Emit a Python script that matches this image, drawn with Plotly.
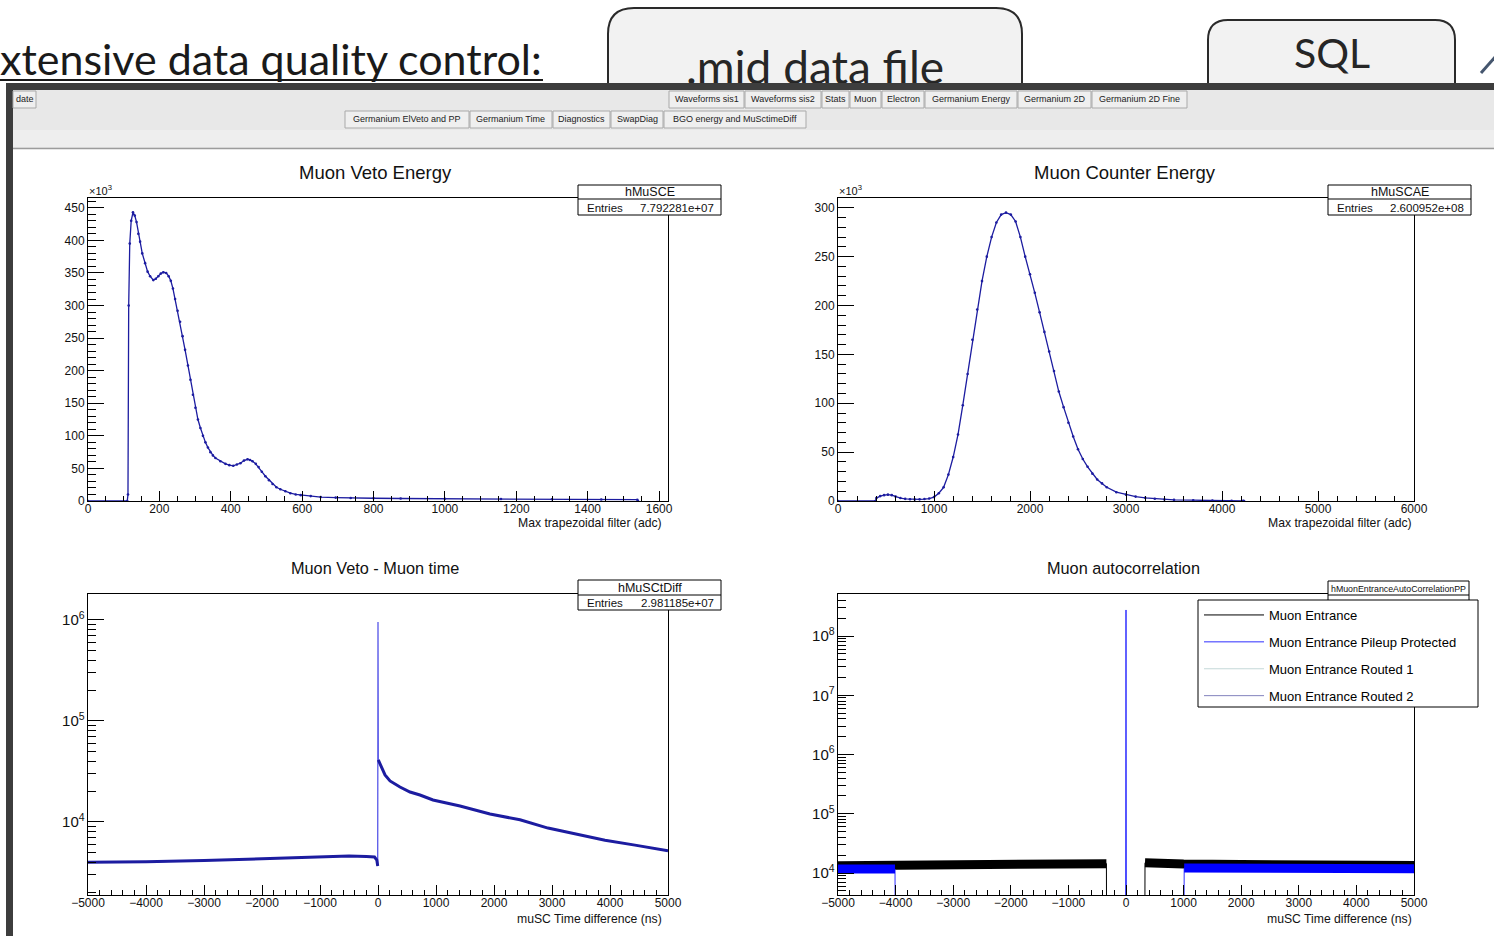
import plotly.graph_objects as go

W, H = 1494, 936
def fx(x): return x / W
def fy(y): return 1 - y / H

# ----------------------------- data -----------------------------
veto_energy_adc = [0, 110, 112, 114, 117, 121, 126, 131, 136, 141,
                   146, 152, 160, 167, 174, 183, 190, 197, 204, 211,
                   219, 226, 232, 238, 244, 251, 258, 265, 272, 280,
                   287, 294, 301, 308, 315, 322, 329, 336, 343, 350,
                   357, 371, 385, 396, 407, 417, 427, 437, 447, 454,
                   461, 470, 478, 487, 497, 507, 517, 528, 539, 553,
                   567, 582, 596, 624, 652, 694, 736, 800, 876, 1000,
                   1157, 1300, 1438, 1539, 1541]
veto_energy_k = [0, 0, 10, 300, 395, 430, 443, 438, 428, 410,
                 398, 380, 365, 352, 345, 339, 341, 345, 349, 351,
                 350, 345, 338, 326, 310, 292, 275, 253, 232, 208,
                 186, 163, 143, 125, 112, 100, 90, 82, 75, 70,
                 66, 61, 57, 55, 54, 56, 58, 62, 64, 63,
                 61, 57, 52, 45, 38, 32, 26, 21, 18, 15,
                 12, 10, 9, 7.5, 6, 5.2, 4.6, 4.2, 3.8, 3.4,
                 3.0, 2.6, 2.3, 2.0, 0]

counter_energy_adc = [0, 390, 400, 440, 480, 520, 560, 600, 650, 700,
                      750, 800, 850, 900, 950, 1000, 1050, 1100, 1150, 1200,
                      1250, 1300, 1350, 1400, 1450, 1500, 1550, 1600, 1650, 1700,
                      1750, 1800, 1850, 1900, 1950, 2000, 2050, 2100, 2150, 2200,
                      2250, 2300, 2350, 2400, 2450, 2500, 2550, 2600, 2650, 2700,
                      2750, 2800, 2900, 3000, 3100, 3200, 3300, 3400, 3500, 3700,
                      3900, 4100, 4220, 4230]
counter_energy_k = [0, 0, 3, 5, 6, 6.5, 6, 4.5, 3, 2.2,
                    1.8, 1.6, 1.7, 2, 2.5, 4, 8, 14, 27, 45,
                    68, 98, 130, 165, 196, 225, 250, 270, 285, 293,
                    295, 293, 286, 270, 250, 232, 213, 193, 173, 153,
                    133, 112, 96, 80, 66, 53, 43, 35, 28, 22,
                    18, 14, 9, 6.5, 4.5, 3.2, 2.3, 1.6, 1.2, 0.8,
                    0.5, 0.3, 0.2, 0]

veto_time_ns = [-5000, -4000, -3000, -2000, -1000, -500, -200, -60, -20, -5,
                0, 5, 34, 121, 207, 379, 552, 724, 948, 1414,
                1931, 2448, 2931, 3397, 3914, 4431, 5000]
veto_time_counts = [4000, 4030, 4150, 4300, 4450, 4600, 4550, 4500, 4200, 3660,
                    955000, 41100, 38000, 29200, 25500, 22200, 19800, 18500, 16500, 14400,
                    12000, 10500, 8700, 7600, 6600, 5900, 5200]

EMPTY_BIN = 1  # plotted level of empty bins (below the visible log range)
entrance_left_ns = [-5000, -4000, -3000, -2000, -1000, -340]
entrance_left_counts = [13300, 13500, 13700, 13900, 14200, 14400]
entrance_right_ns = [330, 500, 1000, 2000, 3000, 4000, 5000]
entrance_right_counts = [14900, 14600, 14200, 13900, 13700, 13600, 13400]
pileup_left_ns = [-5000, -4500, -4010]
pileup_left_counts = [11700, 11700, 11700]
pileup_right_ns = [1010, 2000, 3000, 4000, 5000]
pileup_right_counts = [12100, 12000, 11900, 11800, 11800]
pileup_spike_ns = [0]
pileup_spike_counts = [2.75e8]
routed1_ns = [-5000, 5000]
routed1_counts = [0, 0]
routed2_ns = [-5000, 5000]
routed2_counts = [0, 0]

legend_names = ["Muon Entrance", "Muon Entrance Pileup Protected",
                "Muon Entrance Routed 1", "Muon Entrance Routed 2"]

panel_titles = ["Muon Veto Energy", "Muon Counter Energy",
                "Muon Veto - Muon time", "Muon autocorrelation"]
axis_titles = ["Max trapezoidal filter (adc)", "Max trapezoidal filter (adc)",
               "muSC Time difference (ns)", "muSC Time difference (ns)"]
stats_names = ["hMuSCE", "hMuSCAE", "hMuSCtDiff", "hMuonEntranceAutoCorrelationPP"]
stats_entries = ["7.792281e+07", "2.600952e+08", "2.981185e+07", None]

tabs_row1 = ["date", "Waveforms sis1", "Waveforms sis2", "Stats", "Muon", "Electron",
             "Germanium Energy", "Germanium 2D", "Germanium 2D Fine"]
tabs_row2 = ["Germanium ElVeto and PP", "Germanium Time", "Diagnostics", "SwapDiag",
             "BGO energy and MuSctimeDiff"]

# ----------------------------- layout geometry -----------------------------
tabs_row1_edges = [(13, 36), (669, 744), (745, 821), (822, 849), (850, 881), (882, 924),
                   (925, 1017), (1018, 1091), (1092, 1187)]
tabs_row2_edges = [(345, 469), (470, 552), (553, 610), (611, 663), (664, 806)]

DARK = "#1c1ca0"
FONT = "Arial"

fig = go.Figure()

# top-left
fig.add_trace(go.Scatter(x=veto_energy_adc, y=veto_energy_k, xaxis="x", yaxis="y",
                         mode="lines+markers", line=dict(color=DARK, width=1.3),
                         marker=dict(size=2.6, color=DARK), showlegend=False))
# top-right
fig.add_trace(go.Scatter(x=counter_energy_adc, y=counter_energy_k, xaxis="x2", yaxis="y2",
                         mode="lines+markers", line=dict(color=DARK, width=1.3),
                         marker=dict(size=2.6, color=DARK), showlegend=False))
# bottom-left
fig.add_trace(go.Scatter(x=veto_time_ns, y=veto_time_counts, xaxis="x3", yaxis="y3",
                         mode="lines", line=dict(color="#4a4ae6", width=1.2), showlegend=False))
fig.add_trace(go.Scatter(x=veto_time_ns[:10], y=veto_time_counts[:10], xaxis="x3", yaxis="y3",
                         mode="lines", line=dict(color=DARK, width=3), showlegend=False))
fig.add_trace(go.Scatter(x=veto_time_ns[11:], y=veto_time_counts[11:], xaxis="x3", yaxis="y3",
                         mode="lines", line=dict(color=DARK, width=3), showlegend=False))

# bottom-right
ent_x = entrance_left_ns + [-330, 320] + entrance_right_ns
ent_y = entrance_left_counts + [EMPTY_BIN, EMPTY_BIN] + entrance_right_counts
fig.add_trace(go.Scatter(x=ent_x, y=ent_y, xaxis="x4", yaxis="y4", mode="lines",
                         line=dict(color="black", width=1), name=legend_names[0],
                         legendgroup="g1"))
fig.add_trace(go.Scatter(x=entrance_left_ns, y=entrance_left_counts, xaxis="x4", yaxis="y4",
                         mode="lines", line=dict(color="black", width=9), showlegend=False,
                         legendgroup="g1"))
fig.add_trace(go.Scatter(x=entrance_right_ns, y=entrance_right_counts, xaxis="x4", yaxis="y4",
                         mode="lines", line=dict(color="black", width=9), showlegend=False,
                         legendgroup="g1"))
pp_x = pileup_left_ns + [-4000, -10] + pileup_spike_ns + [10, 1000] + pileup_right_ns
pp_y = pileup_left_counts + [EMPTY_BIN, EMPTY_BIN] + pileup_spike_counts + [EMPTY_BIN, EMPTY_BIN] + pileup_right_counts
fig.add_trace(go.Scatter(x=pp_x, y=pp_y, xaxis="x4", yaxis="y4", mode="lines",
                         line=dict(color="#2f2fff", width=1), name=legend_names[1],
                         legendgroup="g2"))
fig.add_trace(go.Scatter(x=pileup_left_ns, y=pileup_left_counts, xaxis="x4", yaxis="y4",
                         mode="lines", line=dict(color="#0000ff", width=9), showlegend=False,
                         legendgroup="g2"))
fig.add_trace(go.Scatter(x=pileup_right_ns, y=pileup_right_counts, xaxis="x4", yaxis="y4",
                         mode="lines", line=dict(color="#0000ff", width=9), showlegend=False,
                         legendgroup="g2"))
fig.add_trace(go.Scatter(x=routed1_ns, y=routed1_counts, xaxis="x4", yaxis="y4", mode="lines",
                         line=dict(color="#c4d8d8", width=1), name=legend_names[2],
                         legendgroup="g3"))
fig.add_trace(go.Scatter(x=routed2_ns, y=routed2_counts, xaxis="x4", yaxis="y4", mode="lines",
                         line=dict(color="#8383bd", width=1), name=legend_names[3],
                         legendgroup="g4"))

# slide texts (as text traces on a full-page overlay axis so the window frame can cover them)
fig.add_trace(go.Scatter(x=[0], y=[64], xaxis="x5", yaxis="y5", mode="text",
                         text=["xtensive data quality control:"], textposition="middle right",
                         textfont=dict(family="Lato", size=43, color="#1a1a1a"),
                         showlegend=False, hoverinfo="skip", cliponaxis=False))
fig.add_trace(go.Scatter(x=[815, 1332], y=[72, 58], xaxis="x5", yaxis="y5", mode="text",
                         text=[".mid data file", "SQL"], textposition="middle center",
                         textfont=dict(family="Lato", size=[46, 41], color="#262626"),
                         showlegend=False, hoverinfo="skip", cliponaxis=False))

# ----------------------------- axes -----------------------------
def xax(domain, rng, dtick, minor_dtick, anchor):
    return dict(domain=[fx(domain[0]), fx(domain[1])], range=rng, dtick=dtick, tick0=0,
                ticks="inside", ticklen=10, tickcolor="black", tickwidth=1,
                minor=dict(ticks="inside", ticklen=5, dtick=minor_dtick, tickcolor="black", showgrid=False),
                showline=True, mirror=True, linecolor="black", linewidth=1,
                showgrid=False, zeroline=False, anchor=anchor, automargin=False,
                ticklabelstandoff=-3,
                tickfont=dict(family=FONT, size=12, color="#111"))

def yax(domain, rng, dtick, minor_dtick, anchor, log=False):
    d = dict(domain=[fy(domain[1]), fy(domain[0])], range=rng, dtick=dtick, tick0=0,
             ticks="inside", ticklen=16, tickcolor="black", tickwidth=1,
             minor=dict(ticks="inside", ticklen=8, dtick=minor_dtick, tickcolor="black", showgrid=False),
             showline=True, mirror=True, linecolor="black", linewidth=1,
             showgrid=False, zeroline=False, anchor=anchor, automargin=False,
             tickfont=dict(family=FONT, size=12, color="#111"))
    if log:
        d["type"] = "log"
        d["exponentformat"] = "power"
    return d

LX, RX = (88, 668), (838, 1414)
TY, BY = (198, 501), (594, 895)

layout = dict(
    width=W, height=H, margin=dict(l=0, r=0, t=0, b=0, pad=0, autoexpand=False),
    paper_bgcolor="white", plot_bgcolor="rgba(0,0,0,0)",
    xaxis=xax(LX, [0, 1625], 200, 50, "y"),
    yaxis=yax(TY, [0, 465], 50, 10, "x"),
    xaxis2=xax(RX, [0, 6000], 1000, 200, "y2"),
    yaxis2=yax(TY, [0, 310], 50, 10, "x2"),
    xaxis3=xax(LX, [-5000, 5000], 1000, 200, "y3"),
    yaxis3=yax(BY, [3.277, 6.257], 1, "D1", "x3", log=True),
    xaxis4=xax(RX, [-5000, 5000], 1000, 200, "y4"),
    yaxis4=yax(BY, [3.629, 8.709], 1, "D1", "x4", log=True),
    xaxis5=dict(domain=[0, 1], range=[0, W], visible=False, anchor="y5", fixedrange=True),
    yaxis5=dict(domain=[0, 1], range=[H, 0], visible=False, anchor="x5", fixedrange=True),
    legend=dict(x=fx(1199), y=fy(600), xanchor="left", yanchor="top", bgcolor="rgba(0,0,0,0)",
                borderwidth=0, traceorder="grouped", tracegroupgap=7,
                itemwidth=60, font=dict(family=FONT, size=13, color="black")),
    showlegend=True,
)
fig.update_layout(**layout)

shapes = []
annotations = []

def rect(x0, y0, x1, y1, fill, line=None, lw=1, layer="above"):
    shapes.append(dict(type="rect", xref="paper", yref="paper", x0=fx(x0), x1=fx(x1),
                       y0=fy(y1), y1=fy(y0), fillcolor=fill, layer=layer,
                       line=dict(color=line if line else "rgba(0,0,0,0)", width=lw if line else 0)))

def hline(x0, x1, y, color, width=1, layer="above"):
    shapes.append(dict(type="line", xref="paper", yref="paper", x0=fx(x0), x1=fx(x1),
                       y0=fy(y), y1=fy(y), line=dict(color=color, width=width), layer=layer))

def text(x, y, s, size, xanchor="center", color="#111", family=FONT):
    annotations.append(dict(x=fx(x), y=fy(y), xref="paper", yref="paper", text=s,
                            showarrow=False, xanchor=xanchor, yanchor="middle",
                            font=dict(family=family, size=size, color=color)))

def rrect_path(x0, y0, x1, y1, r):
    P = lambda x, y: f"{fx(x)},{fy(y)}"
    return (f"M{P(x0, y1)} L{P(x0, y0 + r)} Q{P(x0, y0)} {P(x0 + r, y0)} "
            f"L{P(x1 - r, y0)} Q{P(x1, y0)} {P(x1, y0 + r)} L{P(x1, y1)}")

# slide decorations
shapes.append(dict(type="path", xref="paper", yref="paper", path=rrect_path(608, 8, 1022, 95, 26),
                   fillcolor="#f2f2f2", line=dict(color="#2a2a2a", width=2), layer="below"))
shapes.append(dict(type="path", xref="paper", yref="paper", path=rrect_path(1208, 20, 1455, 95, 20),
                   fillcolor="#f2f2f2", line=dict(color="#2a2a2a", width=2), layer="below"))
hline(-5, 543, 80, "#1a1a1a", 2, layer="below")
shapes.append(dict(type="line", xref="paper", yref="paper", x0=fx(1481), y0=fy(73),
                   x1=fx(1496), y1=fy(56), line=dict(color="#45566e", width=3), layer="below"))

# window frame and GUI area
rect(13, 90, 1500, 148, "#e8e8e8")
rect(13, 130, 1500, 147, "#eeeeee")
hline(13, 1500, 148.5, "#9c9c9c", 1.5)
rect(6, 83, 1500, 90, "#3d3d3d")
rect(6, 83, 13, 940, "#3d3d3d")

for label, (a, b) in zip(tabs_row1, tabs_row1_edges):
    rect(a, 91, b, 108, "#efefef", "#a9a9a9", 1)
    text((a + b) / 2, 99.5, label, 9, color="#222")
for label, (a, b) in zip(tabs_row2, tabs_row2_edges):
    rect(a, 111, b, 128, "#efefef", "#a9a9a9", 1)
    text((a + b) / 2, 119.5, label, 9, color="#222")

# panel titles / axis titles
title_pos = [(375, 172, 18.5), (1125, 172, 18.5), (375, 568, 16.3), (1123, 568, 16.3)]
for t, (x, y, s) in zip(panel_titles, title_pos):
    text(x, y, t, s)
axis_title_pos = [(664, 523), (1414, 523), (664, 919), (1414, 919)]
for t, (x, y) in zip(axis_titles, axis_title_pos):
    text(x, y, t, 12.2, xanchor="right")
text(87, 190, "×10<sup>3</sup>", 11, xanchor="left")
text(837, 190, "×10<sup>3</sup>", 11, xanchor="left")

# stats boxes
stats_boxes = [(578, 185, 721, 215, 199), (1328, 185, 1471, 215, 199),
               (578, 580, 721, 610, 595), (1328, 581, 1469, 612, 595)]
for name, entries, (x0, y0, x1, y1, yd) in zip(stats_names, stats_entries, stats_boxes):
    rect(x0, y0, x1, y1, "white", "black", 1)
    hline(x0, x1, yd, "black", 1)
    if entries is None:
        text((x0 + x1) / 2, (y0 + yd) / 2 + 0.5, name, 8.8)
    else:
        text((x0 + x1) / 2, (y0 + yd) / 2 + 0.5, name, 12.5)
        text(x0 + 7, (yd + y1) / 2 + 0.5, "Entries", 11.5, xanchor="left")
        text(x1 - 5, (yd + y1) / 2 + 0.5, entries, 11.5, xanchor="right")

# legend box (drawn as a shape, legend entries sit on top of it)
rect(1198, 600, 1478, 707, "white", "black", 1)

fig.update_layout(shapes=shapes, annotations=annotations)
fig.write_html("out.html")
